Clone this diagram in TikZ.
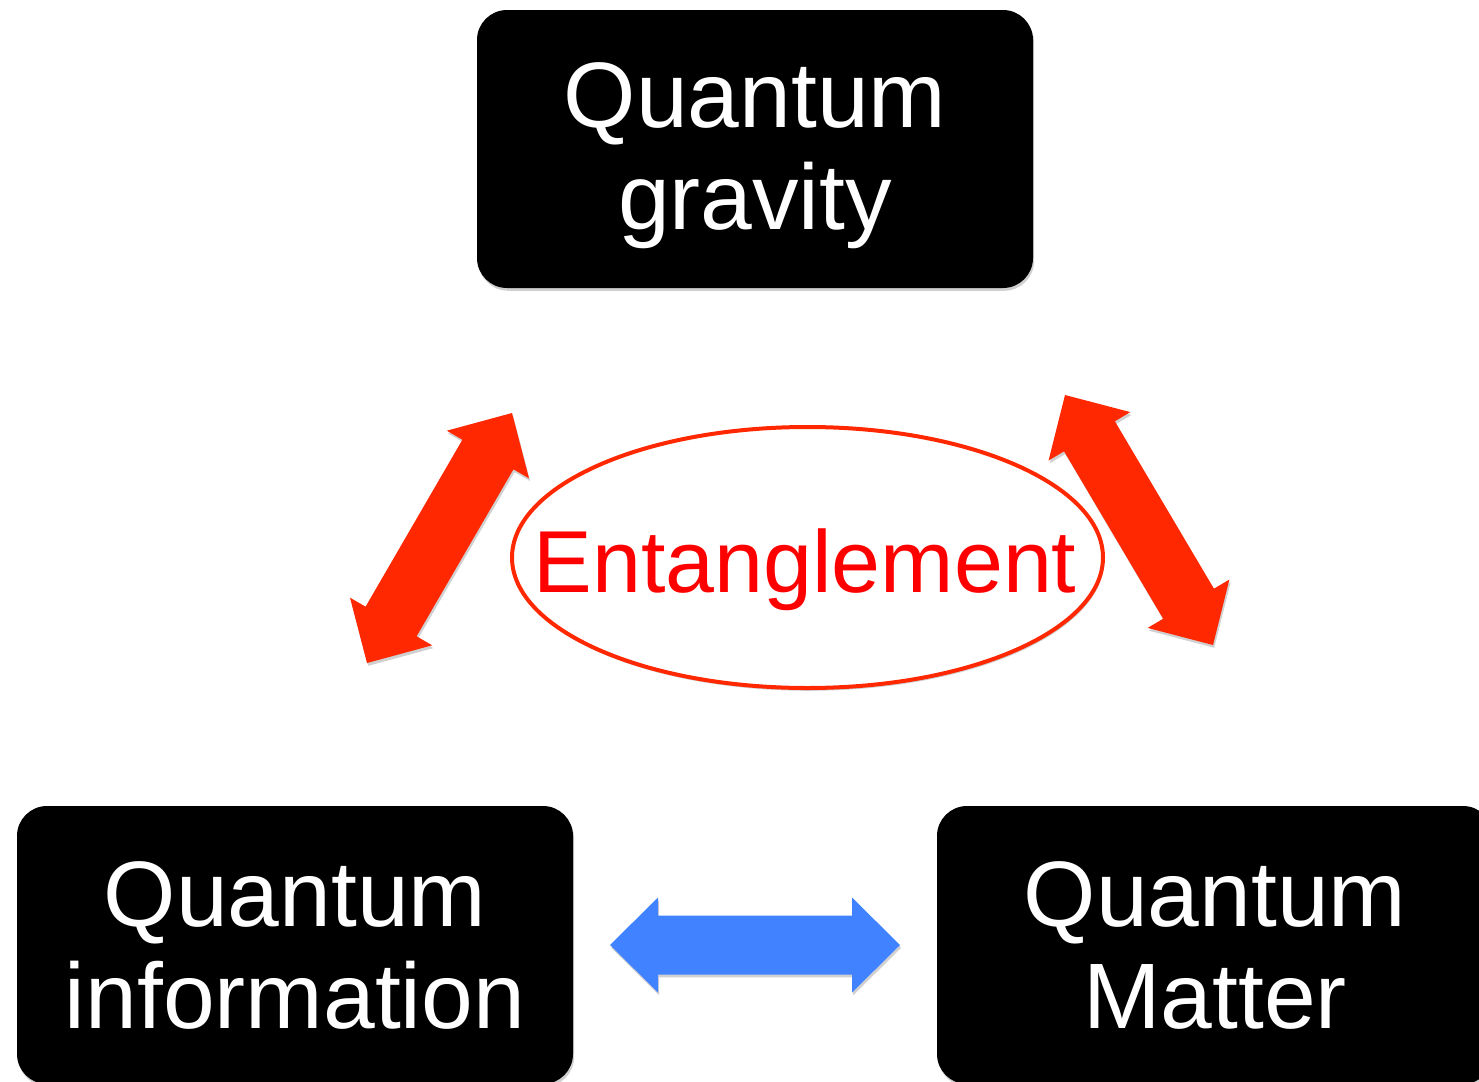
\documentclass[tikz,border=0pt]{standalone}
\usepackage{fontspec}
\setmainfont{Liberation Sans}
\usetikzlibrary{calc,shapes.geometric,shadows}
\definecolor{arrowred}{RGB}{255,40,0}
\definecolor{textred}{RGB}{255,0,0}
\definecolor{arrowblue}{RGB}{64,130,255}
\tikzset{
  softshadow/.style={drop shadow={shadow xshift=0.6pt, shadow yshift=-1.4pt, opacity=0.3, fill=black!60}},
  box/.style={rectangle, rounded corners=15pt, fill=black, minimum width=278pt, minimum height=139pt, inner sep=0pt, softshadow},
  boxtext/.style={text=white, align=center, inner sep=0pt, font=\fontsize{46.5}{51}\selectfont},
}
\newcommand\blockarrow[4]{%
  \coordinate (#3h1) at ($(#1)!24pt!(#2)$);
  \coordinate (#3h2) at ($(#2)!24pt!(#1)$);
  \fill[#4, softshadow] (#1) -- ($(#3h1)!23.75pt!90:(#2)$) -- ($(#3h1)!14.75pt!90:(#2)$)
    -- ($(#3h2)!14.75pt!-90:(#1)$) -- ($(#3h2)!23.75pt!-90:(#1)$) -- (#2)
    -- ($(#3h2)!23.75pt!90:(#1)$) -- ($(#3h2)!14.75pt!90:(#1)$)
    -- ($(#3h1)!14.75pt!-90:(#2)$) -- ($(#3h1)!23.75pt!-90:(#2)$) -- cycle;
}
\begin{document}
\begin{tikzpicture}[x=0.5pt,y=-0.5pt]
\useasboundingbox (0,0) rectangle (1479,1082);
\begin{scope}
\clip (0,0) rectangle (1479,1082);
\fill[white] (0,0) rectangle (1479,1082);
% boxes
\node[box] (qg) at (755,149) {};
\node[boxtext] (qgt) at (755,155.5) {Quantum\\gravity};
\node[box] (qi) at (295,945) {};
\node[boxtext] (qit) at (295,945) {Quantum\\information};
\node[box] (qm) at (1215,945) {};
\node[boxtext] (qmt) at (1215,945) {Quantum\\Matter};
% ellipse
\node[ellipse, draw=arrowred, fill=white, line width=2pt, minimum width=295.5pt, minimum height=130.5pt, inner sep=0pt, softshadow] (ell) at (807.5,557.5) {};
\node[font=\fontsize{44}{50}\selectfont, text=textred, anchor=base, inner sep=0pt] (ent) at (805,592) {Entanglement};
% arrow end points
\coordinate (la) at (367,663);
\coordinate (lb) at (512,413);
\coordinate (ra) at (1065,395);
\coordinate (rb) at (1213,645);
\coordinate (ba) at (610,945);
\coordinate (bb) at (900,945);
\blockarrow{la}{lb}{L}{arrowred}
\blockarrow{ra}{rb}{R}{arrowred}
\blockarrow{ba}{bb}{B}{arrowblue}
\end{scope}
\end{tikzpicture}
\end{document}
